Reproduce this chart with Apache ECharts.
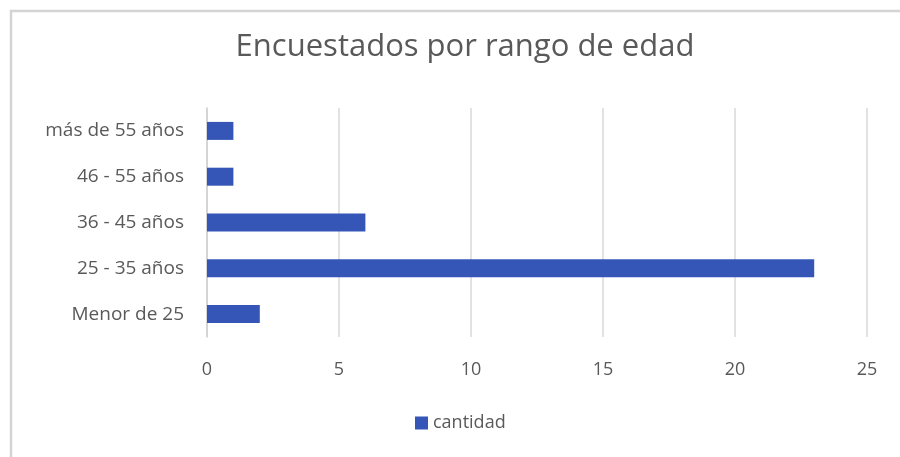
<!DOCTYPE html>
<html>
<head>
<meta charset="utf-8">
<script src="https://cdn.jsdelivr.net/npm/echarts@6/dist/echarts.min.js"></script>
<style>
  html, body { margin: 0; padding: 0; background: #fff; }
  #chart { width: 900px; height: 457px; }
</style>
</head>
<body>
<div id="chart"></div>
<script>
// data
const categories = ['Menor de 25', '25 - 35 años', '36 - 45 años', '46 - 55 años', 'más de 55 años'];
const cantidad = [2, 23, 6, 1, 1];
const xTicks = [0, 5, 10, 15, 20, 25];

const font = 'Open Sans';
const grey = '#595959';

const chart = echarts.init(document.getElementById('chart'));
chart.setOption({
  animation: false,
  textStyle: { fontFamily: font },
  title: {
    text: 'Encuestados por rango de edad',
    left: 460,
    top: 27,
    textAlign: 'center',
    textStyle: { fontFamily: font, fontSize: 31, fontWeight: 'normal', color: grey }
  },
  legend: {
    data: ['cantidad'],
    left: 410,
    top: 409,
    itemWidth: 13,
    itemHeight: 13,
    itemGap: 5,
    icon: 'rect',
    textStyle: { fontFamily: font, fontSize: 18, color: grey }
  },
  grid: { left: 207, right: 33, top: 108, bottom: 120, containLabel: false },
  xAxis: {
    type: 'value',
    min: xTicks[0],
    max: xTicks[xTicks.length - 1],
    interval: 5,
    axisLine: { show: false },
    axisTick: { show: false },
    splitLine: { lineStyle: { color: '#d9d9d9', width: 1.5 } },
    axisLabel: { fontFamily: font, fontSize: 18, color: grey, margin: 24 }
  },
  yAxis: {
    type: 'category',
    data: categories,
    axisLine: { lineStyle: { color: '#d0d0d0', width: 1.5 } },
    axisTick: { show: false },
    axisLabel: { fontFamily: font, fontSize: 19, color: grey, margin: 23 }
  },
  series: [{
    name: 'cantidad',
    type: 'bar',
    data: cantidad,
    barWidth: 18,
    itemStyle: { color: '#3556b7' }
  }],
  graphic: [{
    type: 'polyline',
    shape: { points: [[11, 457], [11, 11], [900, 11]] },
    style: { fill: 'none', stroke: '#d4d4d4', lineWidth: 2.5 },
    silent: true
  }]
});
</script>
</body>
</html>
